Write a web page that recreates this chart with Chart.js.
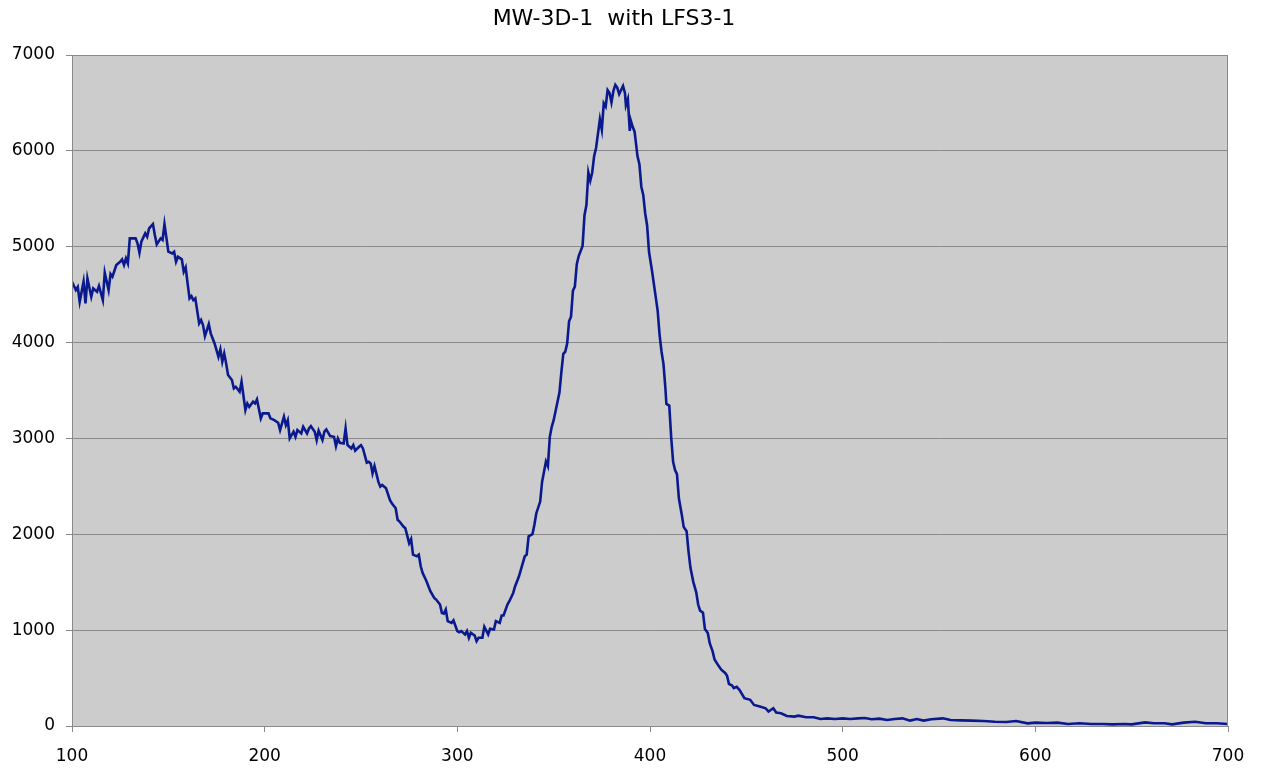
<!DOCTYPE html>
<html>
<head>
<meta charset="utf-8">
<script src="https://cdn.jsdelivr.net/npm/chart.js@4"></script>
<style>
  body { margin: 0; background: #fff; }
  #wrap { width: 1264px; height: 768px; }
</style>
</head>
<body>
<div id="wrap"><canvas id="spectrum" width="1264" height="768"></canvas></div>
<script>
const chartTitle = 'MW-3D-1  with LFS3-1';
const xTicks = [100, 200, 300, 400, 500, 600, 700];
const yTicks = [0, 1000, 2000, 3000, 4000, 5000, 6000, 7000];

// wavelength readings (x)
const wavelength = [
  100, 102, 103, 104, 106, 107, 108, 110, 111, 113, 114, 116, 117, 119, 120, 121, 123, 125, 126, 127,
  128, 129, 130, 133, 134, 135, 136, 138, 139, 140, 142, 143, 144, 146, 147, 148, 150, 152, 153, 154,
  155, 157, 158, 159, 160, 161, 162, 163, 164, 166, 167, 168, 169, 171, 172, 174, 175, 176, 177, 178,
  179, 180, 181, 183, 184, 185, 187, 188, 190, 191, 192, 194, 195, 196, 198, 199, 202, 203, 205, 207,
  208, 210, 211, 212, 213, 215, 216, 217, 219, 220, 222, 223, 224, 226, 227, 228, 230, 231, 232, 234,
  236, 237, 238, 239, 241, 242, 243, 245, 246, 247, 249, 250, 251, 253, 254, 255, 256, 257, 259, 260,
  261, 263, 265, 266, 268, 269, 270, 272, 273, 275, 276, 277, 279, 280, 281, 282, 284, 285, 286, 288,
  289, 291, 292, 293, 294, 295, 297, 298, 300, 301, 302, 304, 305, 306, 307, 309, 310, 311, 313, 314,
  316, 317, 319, 320, 322, 323, 324, 326, 327, 329, 330, 332, 333, 335, 336, 337, 339, 340, 341, 343,
  344, 346, 347, 348, 349, 350, 353, 354, 355, 356, 357, 358, 359, 360, 361, 362, 363, 365, 366, 367,
  368, 369, 370, 371, 372, 374, 375, 376, 377, 378, 379, 380, 381, 382, 383, 384, 386, 387, 387.5, 388.5,
  389.5, 390, 391, 392, 393.5, 394.5, 395.5, 396.5, 397.5, 398.5, 399.5, 401, 402.5, 404, 405, 406, 407, 408, 408.5, 410,
  411, 412, 413, 414, 415, 416.5, 417.5, 419, 420, 421, 422.5, 424, 425, 426, 427.5, 428.5, 430, 431, 432.5, 433.5,
  435.5, 437, 439, 440, 441, 442.5, 443.5, 445, 446.5, 449, 452, 454, 457, 460, 461.5, 464, 465.5, 468, 471, 475,
  477, 481, 485, 488.5, 492, 496, 500, 504, 508, 511.5, 515, 519, 523, 527, 531, 535, 538.5, 542, 546, 552,
  556, 561.5, 567, 573, 579, 585, 590, 596, 600, 606, 611.5, 617, 623, 629, 635, 640, 646, 650, 657, 661.5,
  667, 671, 677, 683, 688.5, 694, 700
];

// counts (y)
const intensity = [
  4635, 4548, 4580, 4426, 4635, 4409, 4670, 4478, 4565, 4530, 4590, 4443, 4729, 4548, 4715, 4687, 4809, 4843, 4868, 4809,
  4878, 4826, 5087, 5087, 5035, 4937, 5052, 5139, 5104, 5191, 5236, 5122, 5024, 5087, 5070, 5236, 4948, 4930, 4948, 4843,
  4896, 4868, 4739, 4784, 4617, 4461, 4485, 4443, 4461, 4200, 4235, 4183, 4068, 4193, 4096, 3991, 3922, 3852, 3929, 3800,
  3887, 3783, 3661, 3609, 3522, 3539, 3487, 3591, 3296, 3365, 3330, 3383, 3365, 3407, 3209, 3261, 3261, 3209, 3191, 3164,
  3087, 3226, 3139, 3191, 3000, 3070, 3017, 3087, 3052, 3122, 3052, 3104, 3128, 3070, 2983, 3080, 2983, 3070, 3094, 3024,
  3017, 2920, 3000, 2955, 2948, 3104, 2931, 2896, 2931, 2872, 2913, 2930, 2896, 2747, 2757, 2740, 2636, 2712, 2549, 2497,
  2515, 2480, 2359, 2324, 2272, 2151, 2133, 2081, 2064, 1908, 1950, 1787, 1770, 1787, 1666, 1596, 1510, 1458, 1406, 1336,
  1319, 1267, 1180, 1173, 1215, 1094, 1076, 1101, 990, 979, 990, 955, 990, 920, 972, 944, 886, 920, 920, 1035,
  955, 1014, 1007, 1094, 1076, 1153, 1153, 1267, 1302, 1388, 1458, 1562, 1631, 1770, 1787, 1978, 2002, 2099, 2220, 2341,
  2549, 2760, 2712, 3017, 3121, 3190, 3479, 3691, 3883, 3904, 3989, 4223, 4270, 4542, 4584, 4818, 4903, 5009, 5328, 5434,
  5775, 5690, 5775, 5945, 6030, 6330, 6221, 6497, 6463, 6634, 6604, 6506, 6625, 6689, 6660, 6591, 6676, 6604, 6476, 6540,
  6208, 6319, 6251, 6200, 5945, 5860, 5626, 5541, 5349, 5222, 4945, 4754, 4542, 4329, 4074, 3904, 3776, 3521, 3360, 3343,
  3011, 2756, 2671, 2628, 2373, 2203, 2075, 2033, 1820, 1650, 1501, 1395, 1267, 1204, 1182, 1012, 970, 863, 778, 693,
  630, 587, 553, 523, 438, 425, 396, 409, 375, 290, 273, 220, 203, 185, 150, 185, 140, 133, 105, 98,
  108, 91, 91, 73, 80, 73, 80, 73, 80, 84, 70, 77, 63, 73, 80, 56, 73, 56, 70, 80,
  63, 59, 56, 52, 45, 42, 52, 28, 35, 31, 35, 21, 28, 21, 21, 17, 21, 17, 38, 28,
  28, 17, 35, 45, 28, 28, 21
];

const points = wavelength.map((x, i) => ({ x, y: intensity[i] }));

// grey plot area with a thin frame, like the spreadsheet original
const plotFrame = {
  id: 'plotFrame',
  beforeDraw(chart) {
    const { ctx, chartArea: a } = chart;
    ctx.save();
    ctx.fillStyle = '#cccccc';
    ctx.fillRect(a.left, a.top, a.right - a.left, a.bottom - a.top);
    ctx.restore();
  },
  afterDraw(chart) {
    const { ctx, chartArea: a } = chart;
    ctx.save();
    ctx.strokeStyle = '#8a8a8a';
    ctx.lineWidth = 1;
    ctx.strokeRect(a.left + 0.5, a.top + 0.5, a.right - a.left - 1, a.bottom - a.top);
    ctx.restore();
  }
};

Chart.defaults.font.family = '"DejaVu Sans", Verdana, sans-serif';
Chart.defaults.color = '#000';

new Chart(document.getElementById('spectrum'), {
  type: 'line',
  data: {
    datasets: [{
      data: points,
      borderColor: '#0a1a8e',
      borderWidth: 2.6,
      pointRadius: 0,
      tension: 0,
      fill: false
    }]
  },
  options: {
    responsive: false,
    animation: false,
    layout: { padding: { left: 0, right: 36, top: 0, bottom: 0 } },
    plugins: {
      legend: { display: false },
      tooltip: { enabled: false },
      title: {
        display: true,
        text: chartTitle,
        font: { size: 22, weight: 'normal' },
        color: '#000',
        padding: { top: 6, bottom: 22.6 }
      }
    },
    scales: {
      x: {
        type: 'linear',
        min: xTicks[0],
        max: xTicks[xTicks.length - 1],
        afterBuildTicks: s => { s.ticks = xTicks.map(v => ({ value: v })); },
        afterFit: s => { s.height = 42; },
        grid: { drawOnChartArea: false, drawTicks: true, tickLength: 6, color: '#8a8a8a' },
        border: { display: true, color: '#8a8a8a' },
        ticks: { font: { size: 17 }, padding: 14, maxRotation: 0, callback: v => String(v) }
      },
      y: {
        min: yTicks[0],
        max: yTicks[yTicks.length - 1],
        afterBuildTicks: s => { s.ticks = yTicks.map(v => ({ value: v })); },
        afterFit: s => { s.width = 72; },
        grid: { color: '#8a8a8a', tickLength: 6 },
        border: { display: true, color: '#8a8a8a' },
        ticks: { font: { size: 17 }, padding: 11, callback: v => String(v) }
      }
    }
  },
  plugins: [plotFrame]
});
</script>
</body>
</html>
